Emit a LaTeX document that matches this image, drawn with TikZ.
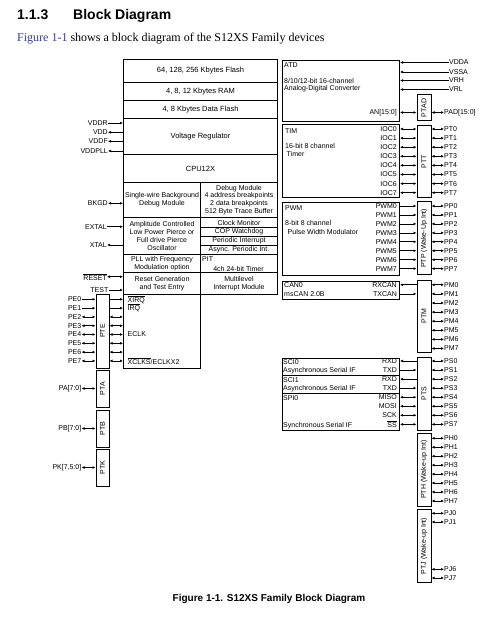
\documentclass[tikz,border=0pt]{standalone}
\usepackage{fontspec}
\setmainfont{Liberation Sans}
\newfontfamily\bodyfont{Liberation Serif}
\usetikzlibrary{arrows.meta,fit,positioning}
\definecolor{linkblue}{HTML}{3A3A96}
\newcommand{\ovl}[1]{$\overline{\hbox{#1}}$}

\tikzstyle{blk} = [draw, line width=1pt, inner sep=0pt, anchor=north west, align=center, font=\fontsize{7}{7.8}\selectfont]
\tikzstyle{bigblk} = [blk, font=\fontsize{7.5}{8}\selectfont]
\tikzstyle{port} = [draw, line width=1pt, inner sep=0pt]
\tikzstyle{pinlbl} = [inner sep=0pt, font=\fontsize{7}{8}\selectfont]
\tikzstyle{boxlbl} = [inner sep=0pt, anchor=west, font=\fontsize{7}{8}\selectfont]
\tikzstyle{portlbl} = [rotate=90, inner sep=0pt, font=\fontsize{7}{8}\selectfont]
\tikzstyle{uni} = [line width=0.7pt, -{Latex[length=3pt,width=2.8pt]}]
\tikzstyle{bi} = [line width=0.7pt, {Latex[length=3pt,width=2.8pt]}-{Latex[length=3pt,width=2.8pt]}]

\begin{document}
\begin{tikzpicture}[x=1pt,y=-1pt]
  \useasboundingbox (0,0) rectangle (500,628);

  % heading and intro line
  \node[anchor=base west, inner sep=0pt, font=\bfseries\fontsize{14}{16}\selectfont] (secnum) at (17,20) {1.1.3};
  \node[anchor=base west, inner sep=0pt, font=\bfseries\fontsize{14}{16}\selectfont] (sectitle) at (73,20) {Block Diagram};
  \node[anchor=base west, inner sep=0pt, font=\bodyfont\fontsize{12}{14}\selectfont] (intro) at (17,41.5)
    {\textcolor{linkblue}{Figure 1-1} shows a block diagram of the S12XS Family devices};

  % core column
  \node[bigblk, minimum width=154pt, minimum height=23pt] (flash) at (123,59) {64, 128, 256 Kbytes Flash};
  \node[bigblk, minimum width=154pt, minimum height=18pt] (ram) at (123,82) {4, 8, 12 Kbytes RAM};
  \node[bigblk, minimum width=154pt, minimum height=18pt] (dflash) at (123,100) {4, 8 Kbytes Data Flash};
  \node[bigblk, minimum width=154pt, minimum height=36pt] (vreg) at (123,118) {Voltage Regulator};
  \node[bigblk, minimum width=154pt, minimum height=28pt] (cpu) at (123,154) {CPU12X};

  \node[blk, minimum width=77pt, minimum height=35pt] (bdm) at (123,182) {Single-wire Background\\Debug Module};
  \node[blk, minimum width=77pt, minimum height=35pt] (dbg) at (200,182) {Debug Module\\4 address breakpoints\\2 data breakpoints\\512 Byte Trace Buffer};
  \node[blk, minimum width=77pt, minimum height=37pt] (osc) at (123,217) {Amplitude Controlled\\Low Power Pierce or\\Full drive Pierce\\Oscillator};
  \node[blk, minimum width=77pt, minimum height=10pt] (clkmon) at (200,217) {Clock Monitor};
  \node[blk, minimum width=77pt, minimum height=9pt] (cop) at (200,227) {COP Watchdog};
  \node[blk, minimum width=77pt, minimum height=9pt] (pint) at (200,236) {Periodic Interrupt};
  \node[blk, minimum width=77pt, minimum height=9pt] (apint) at (200,245) {Async. Periodic Int.};
  \node[blk, minimum width=77pt, minimum height=18pt] (pll) at (123,254) {PLL with Frequency\\Modulation option};
  \node[blk, minimum width=77pt, minimum height=18pt] (pit) at (200,254) {};
  \node[boxlbl] (pitname) at (202,259.5) {PIT};
  \node[pinlbl] (pittxt) at (238.5,268.5) {4ch 24-bit Timer};
  \node[blk, minimum width=77pt, minimum height=22pt] (rst) at (123,272) {Reset Generation\\and Test Entry};
  \node[blk, minimum width=77pt, minimum height=22pt] (intm) at (200,272) {Multilevel\\Interrupt Module};
  \node[blk, minimum width=77pt, minimum height=74pt] (sigs) at (123,294) {};
  \node[boxlbl] (xirq) at (127.5,299.3) {\ovl{XIRQ}};
  \node[boxlbl] (irq) at (127.5,307.8) {\ovl{IRQ}};
  \node[boxlbl] (eclk) at (127.5,334.5) {ECLK};
  \node[boxlbl] (xclks) at (127.5,361) {\ovl{XCLKS}/ECLKX2};

  % supply and control pins
  \node[pinlbl, anchor=east] (vddr) at (108,123) {VDDR};
  \node[pinlbl, anchor=east] (vdd) at (108,132.3) {VDD};
  \node[pinlbl, anchor=east] (vddf) at (108,141.3) {VDDF};
  \node[pinlbl, anchor=east] (vddpll) at (108,151) {VDDPLL};
  \draw[uni] (vddr.east) -- (vreg.west |- vddr);
  \draw[uni] (vreg.west |- vdd) -- (vdd.east);
  \draw[uni] (vreg.west |- vddf) -- (vddf.east);
  \draw[uni] (vreg.west |- vddpll) -- (vddpll.east);

  \node[pinlbl, anchor=east] (bkgd) at (108,203.3) {BKGD};
  \node[pinlbl, anchor=east] (extal) at (107,226.7) {EXTAL};
  \node[pinlbl, anchor=east] (xtal) at (107,245) {XTAL};
  \node[pinlbl, anchor=east] (reset) at (107,276.7) {\ovl{RESET}};
  \node[pinlbl, anchor=east] (test) at (108.5,290) {TEST};
  \draw[bi] (bkgd.east) -- (bdm.west |- bkgd);
  \draw[uni] (extal.east) -- (osc.west |- extal);
  \draw[uni] (osc.west |- xtal) -- (xtal.east);
  \draw[bi] (reset.east) -- (rst.west |- reset);
  \draw[uni] (test.east) -- (rst.west |- test);

  % port E, A, B, K
  \node[port, fit={(96,294)(109,368)}] (pte) {};
  \node[portlbl] (ptetxt) at (pte.center) {PTE};
  \foreach \i in {0,...,7}
    \node[pinlbl, anchor=east] (pe\i) at (81.5,{299.3+8.8*\i}) {PE\i};
  \foreach \i in {0,1} {
    \draw[uni] (pe\i.east) -- (pte.west |- pe\i);
    \draw[uni] (pte.east |- pe\i) -- (sigs.west |- pe\i);
  }
  \foreach \i in {2,...,7} {
    \draw[bi] (pe\i.east) -- (pte.west |- pe\i);
    \draw[bi] (pte.east |- pe\i) -- (sigs.west |- pe\i);
  }

  \node[port, fit={(96,370)(109,407)}] (pta) {};
  \node[portlbl] (ptatxt) at (pta.center) {PTA};
  \node[port, fit={(96,410)(109,447)}] (ptb) {};
  \node[portlbl] (ptbtxt) at (ptb.center) {PTB};
  \node[port, fit={(96,449)(109,486)}] (ptk) {};
  \node[portlbl] (ptktxt) at (ptk.center) {PTK};
  \node[pinlbl, anchor=east] (pa) at (81.5,388.5) {PA[7:0]};
  \node[pinlbl, anchor=east] (pb) at (81.5,428.5) {PB[7:0]};
  \node[pinlbl, anchor=east] (pk) at (81.5,467.5) {PK[7,5:0]};
  \draw[bi] (pa.east) -- (pta.west |- pa);
  \draw[bi] (pb.east) -- (ptb.west |- pb);
  \draw[bi] (pk.east) -- (ptk.west |- pk);

  % ATD
  \node[blk, minimum width=117pt, minimum height=61pt] (atd) at (282,60) {};
  \node[boxlbl] (atdname) at (284,65.5) {ATD};
  \node[boxlbl] (atdtxt1) at (284,81) {8/10/12-bit 16-channel};
  \node[boxlbl] (atdtxt2) at (284,89) {Analog-Digital Converter};
  \node[pinlbl, anchor=west] (vdda) at (449,62.5) {VDDA};
  \node[pinlbl, anchor=west] (vssa) at (449,72) {VSSA};
  \node[pinlbl, anchor=west] (vrh) at (449,80.5) {VRH};
  \node[pinlbl, anchor=west] (vrl) at (449,89.5) {VRL};
  \foreach \p in {vdda,vssa,vrh,vrl}
    \draw[uni] (\p.west) -- (atd.east |- \p);
  \node[port, fit={(417,95)(431,121)}] (ptad) {};
  \node[portlbl] (ptadtxt) at (ptad.center) {PTAD};
  \node[pinlbl, anchor=east] (an) at (397,112.5) {AN[15:0]};
  \node[pinlbl, anchor=west] (pad) at (444,112.5) {PAD[15:0]};
  \draw[bi] (atd.east |- an) -- (ptad.west |- an);
  \draw[bi] (ptad.east |- pad) -- (pad.west);

  % TIM
  \node[blk, minimum width=117pt, minimum height=73.5pt] (tim) at (282,124) {};
  \node[boxlbl] (timname) at (285,131) {TIM};
  \node[boxlbl] (timtxt1) at (285,145.7) {16-bit 8 channel};
  \node[boxlbl] (timtxt2) at (286.5,154) {Timer};
  \node[port, fit={(417,125.5)(431,197.5)}] (ptt) {};
  \node[portlbl] (ptttxt) at (ptt.center) {PTT};
  \foreach \i in {0,...,7} {
    \node[pinlbl, anchor=east] (ioc\i) at (397,{129+9.1*\i}) {IOC\i};
    \node[pinlbl, anchor=west] (pt\i) at (444,{129+9.1*\i}) {PT\i};
    \draw[bi] (tim.east |- ioc\i) -- (ptt.west |- ioc\i);
    \draw[bi] (ptt.east |- pt\i) -- (pt\i.west);
  }

  % PWM
  \node[blk, minimum width=117pt, minimum height=73pt] (pwm) at (282,202) {};
  \node[boxlbl] (pwmname) at (285,208.3) {PWM};
  \node[boxlbl] (pwmtxt1) at (285,223.3) {8-bit 8 channel};
  \node[boxlbl] (pwmtxt2) at (287.5,231.7) {Pulse Width Modulator};
  \node[port, fit={(417,202)(431,274.5)}] (ptp) {};
  \node[portlbl] (ptptxt) at (ptp.center) {PTP (Wake-Up Int)};
  \foreach \i in {0,...,7} {
    \node[pinlbl, anchor=east] (pwm\i) at (397,{206+8.95*\i}) {PWM\i};
    \node[pinlbl, anchor=west] (pp\i) at (444,{206+8.95*\i}) {PP\i};
    \draw[uni] (pwm.east |- pwm\i) -- (ptp.west |- pwm\i);
    \draw[bi] (ptp.east |- pp\i) -- (pp\i.west);
  }

  % CAN
  \node[blk, minimum width=117pt, minimum height=18pt] (can) at (282,280.5) {};
  \node[boxlbl] (canname) at (284,285) {CAN0};
  \node[boxlbl] (cantxt) at (284,294.3) {msCAN 2.0B};
  \node[port, fit={(417,280)(431,352.5)}] (ptm) {};
  \node[portlbl] (ptmtxt) at (ptm.center) {PTM};
  \foreach \i in {0,...,7} {
    \node[pinlbl, anchor=west] (pm\i) at (444,{284.8+9.1*\i}) {PM\i};
    \draw[bi] (ptm.east |- pm\i) -- (pm\i.west);
  }
  \node[pinlbl, anchor=east] (rxcan) at (397,284.8) {RXCAN};
  \node[pinlbl, anchor=east] (txcan) at (397,293.9) {TXCAN};
  \draw[uni] (ptm.west |- rxcan) -- (can.east |- rxcan);
  \draw[uni] (can.east |- txcan) -- (ptm.west |- txcan);

  % SCI and SPI
  \node[blk, minimum width=117pt, minimum height=17pt] (sci0) at (282,358) {};
  \node[boxlbl] (sci0name) at (283,361.7) {SCI0};
  \node[boxlbl] (sci0txt) at (283,371) {Asynchronous Serial IF};
  \node[blk, minimum width=117pt, minimum height=18.3pt] (sci1) at (282,375) {};
  \node[boxlbl] (sci1name) at (283,380) {SCI1};
  \node[boxlbl] (sci1txt) at (283,389) {Asynchronous Serial IF};
  \node[blk, minimum width=117pt, minimum height=36.7pt] (spi0) at (282,393.3) {};
  \node[boxlbl] (spi0name) at (283,398) {SPI0};
  \node[boxlbl] (spi0txt) at (283,426) {Synchronous Serial IF};
  \node[port, fit={(417,357.5)(431,430)}] (pts) {};
  \node[portlbl] (ptstxt) at (pts.center) {PTS};
  \foreach \i in {0,...,7} {
    \node[pinlbl, anchor=west] (ps\i) at (444,{361+9.05*\i}) {PS\i};
    \draw[bi] (pts.east |- ps\i) -- (ps\i.west);
  }
  \node[pinlbl, anchor=east] (rxd0) at (397,361) {RXD};
  \node[pinlbl, anchor=east] (txd0) at (397,370.05) {TXD};
  \node[pinlbl, anchor=east] (rxd1) at (397,379.1) {RXD};
  \node[pinlbl, anchor=east] (txd1) at (397,388.15) {TXD};
  \node[pinlbl, anchor=east] (miso) at (397,397.2) {MISO};
  \node[pinlbl, anchor=east] (mosi) at (397,406.25) {MOSI};
  \node[pinlbl, anchor=east] (sck) at (397,415.3) {SCK};
  \node[pinlbl, anchor=east] (ss) at (397,424.35) {\ovl{SS}};
  \draw[uni] (pts.west |- rxd0) -- (sci0.east |- rxd0);
  \draw[uni] (sci0.east |- txd0) -- (pts.west |- txd0);
  \draw[uni] (pts.west |- rxd1) -- (sci1.east |- rxd1);
  \draw[uni] (sci1.east |- txd1) -- (pts.west |- txd1);
  \foreach \p in {miso,mosi,sck,ss}
    \draw[bi] (spi0.east |- \p) -- (pts.west |- \p);

  % port H and J
  \node[port, fit={(417,433.3)(431,506)}] (pth) {};
  \node[portlbl] (pthtxt) at (pth.center) {PTH (Wake-up Int)};
  \foreach \i in {0,...,7} {
    \node[pinlbl, anchor=west] (ph\i) at (444,{438.3+8.95*\i}) {PH\i};
    \draw[bi] (pth.east |- ph\i) -- (ph\i.west);
  }
  \node[port, fit={(417,509.3)(431,582.7)}] (ptj) {};
  \node[portlbl] (ptjtxt) at (ptj.center) {PTJ (Wake-up Int)};
  \node[pinlbl, anchor=west] (pj0) at (444,513.3) {PJ0};
  \node[pinlbl, anchor=west] (pj1) at (444,522) {PJ1};
  \node[pinlbl, anchor=west] (pj6) at (444,569.3) {PJ6};
  \node[pinlbl, anchor=west] (pj7) at (444,578) {PJ7};
  \foreach \p in {pj0,pj1,pj6,pj7}
    \draw[bi] (ptj.east |- \p) -- (\p.west);

  % caption
  \node[anchor=base, inner sep=0pt, font=\bfseries\fontsize{10}{12}\selectfont] (caption) at (269,601)
    {Figure 1-1. S12XS Family Block Diagram};
\end{tikzpicture}
\end{document}
